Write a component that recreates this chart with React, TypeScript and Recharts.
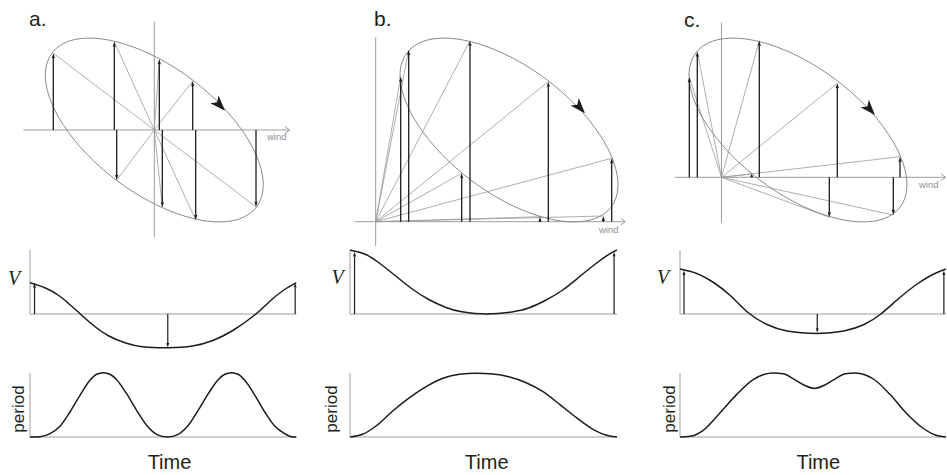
import React from 'react'
import { ComposedChart, Line, Scatter, XAxis, YAxis, ReferenceLine } from 'recharts'

// ---------- hodographs (u = along-wind, v = cross-wind; arbitrary units) ----------

// outline of the current ellipse, relative to its centre
const ellipseU = [103.9, 86.9, 61.5, 30.0, -4.5, -38.5, -68.7, -92.2, -106.7, -110.7, -103.9, -86.9, -61.5, -30.0, 4.5, 38.5, 68.7, 92.2, 106.7, 110.7]
const ellipseV = [-78.3, -90.3, -93.3, -87.3, -72.8, -51.1, -24.4, 4.7, 33.3, 58.7, 78.3, 90.3, 93.3, 87.3, 72.8, 51.1, 24.4, -4.7, -33.3, -58.7]

// ellipse centre (mean flow) in each panel
const centreA = [0, 0]
const centreB = [133.3, 91.7]
const centreC = [76.5, 47.3]

// tips of the eight current vectors
const tipUA = [-101, -40, 5, 38.4, 101.7, 41.4, 8, -37.6]
const tipVA = [76.7, 88.3, 70.7, 49, -76.7, -90, -77.3, -50]
const tipUB = [25, 33, 94.3, 172.6, 236, 227.6, 164.3, 86]
const tipVB = [145, 171.7, 181, 140, 63.4, 5.7, 5, 48.4]
const tipUC = [-32.2, -24.2, 37.8, 115.8, 178.5, 171.8, 107.8, 30.2]
const tipVC = [100, 125.6, 136.6, 94, 20.6, -37.7, -40, 3.3]

// direction-of-rotation marker on each ellipse
const turnA = [70.7, 19.3]
const turnB = [209.3, 108.4]
const turnC = [153.5, 62.3]

// ---------- V against time (percent of the tidal cycle) ----------
const vTimeA = [0, 5.8, 10.8, 14.5, 18.3, 23.4, 29.6, 35.9, 42.2, 52, 61, 68.6, 76.1, 84.3, 89.9, 95, 100]
const vA = [31.3, 26, 18.5, 10.5, 1.5, -10.5, -22, -29, -32.7, -33.7, -32, -26.5, -16.5, -1, 12.5, 23.5, 31.3]
const vArrowTA = [1.7, 51.7, 99.5]
const vArrowA = [30.8, -33.4, 31]

const vTimeB = [0, 5.7, 10.7, 17.1, 23.3, 29.5, 35.7, 41.9, 51.3, 60.6, 66.9, 73.1, 79.4, 85.6, 91.9, 96.8, 100]
const vB = [64, 59.7, 51.5, 38, 25, 14.5, 6.8, 2.2, 0, 2.1, 6, 13.5, 23.5, 36.5, 50, 59.3, 64]
const vArrowTB = [1.7, 98.9]
const vArrowB = [62, 62]

const vTimeC = [0, 6.3, 12.6, 18.9, 25.8, 32.7, 40.3, 51.6, 61.6, 69.2, 75.5, 81.8, 88.1, 94.3, 100]
const vC = [45, 40.5, 31.5, 18.5, 1, -10.5, -17, -19.4, -17, -10.5, 0, 14.5, 28, 38.5, 45]
const vArrowTC = [1.5, 51.6, 99.2]
const vArrowC = [43.5, -18.8, 43.5]

// ---------- period against time ----------
const pTimeA = [0, 3.75, 7.5, 11.25, 15, 18.75, 22.5, 25, 27.5, 30, 32.5, 36.25, 40, 43.75, 47.5, 51.6, 55.6, 59.4, 63.1, 66.9, 70.6, 73.1, 75.6, 78.1, 80.6, 84.4, 88.1, 91.9, 95.6, 98.1, 100]
const pA = [0, 0.3, 3.3, 10.7, 25, 41.7, 56.7, 62.7, 64.3, 62.7, 57.3, 43.3, 26.7, 11.7, 2.7, 0, 2.7, 11.7, 26.7, 43.3, 57.3, 62.7, 64.3, 62.7, 56.7, 41.7, 25, 10.7, 3.3, 0.3, 0]

const pTimeB = [0, 4.75, 9.75, 16, 22.3, 28.5, 34.8, 41, 47.3, 53.5, 59.8, 66, 72.3, 78.5, 84.8, 91, 97.3, 100]
const pB = [0, 2.7, 11, 26, 39.3, 50.3, 58.7, 62.7, 63.7, 63, 60, 54.3, 45.3, 32.7, 19.3, 7.7, 1, 0]

const pTimeC = [0, 3.75, 8.75, 15, 21.25, 27.5, 31.5, 35, 38.8, 42.6, 46.4, 50.5, 54.6, 58.4, 62.2, 66, 69.5, 73, 79, 85, 91.25, 96.25, 100]
const pC = [0, 0.7, 6.7, 24, 42.4, 57.4, 62.5, 64, 63.2, 58.2, 52.2, 48.6, 52.2, 58.2, 63.2, 64, 62.3, 57.5, 42.4, 24, 9, 1.7, 0]

const INK = '#1c1c1c'
const AXIS = '#9d9d9d'
const RAY = '#9a9a9a'
const RIM = '#8a8a8a'
const SANS = '"Liberation Sans", Arial, Helvetica, sans-serif'

const arrowShape = (head: number, width: number) => (p: any) => {
  const { x1, y1, x2, y2, stroke, strokeWidth } = p
  const dx = x2 - x1
  const dy = y2 - y1
  const len = Math.hypot(dx, dy) || 1
  const ux = dx / len
  const uy = dy / len
  const h = Math.min(head, len)
  const bx = x2 - ux * h
  const by = y2 - uy * h
  const w = width / 2
  return (
    <g>
      <line x1={x1} y1={y1} x2={bx} y2={by} stroke={stroke} strokeWidth={strokeWidth} />
      <path d={`M${x2},${y2}L${bx - uy * w},${by + ux * w}L${bx + uy * w},${by - ux * w}Z`} fill={stroke} />
    </g>
  )
}

const chevronShape = (p: any) => {
  const { x1, y1, x2, y2, stroke, strokeWidth } = p
  return (
    <g fill="none" stroke={stroke} strokeWidth={strokeWidth}>
      <line x1={x1} y1={y1} x2={x2} y2={y2} />
      <path d={`M${x2 - 4.5},${y2 - 3.5}L${x2},${y2}L${x2 - 4.5},${y2 + 3.5}`} />
    </g>
  )
}

const turnShape = (angle: number) => (p: any) => (
  <path d="M0,0L-15.5,-5.6L-11.5,0L-15.5,5.6Z" transform={`translate(${p.cx},${p.cy}) rotate(${angle})`} fill={INK} />
)

function Hodograph({ left, width, ox, oy, centre, tipU, tipV, turn, turnAngle, uAxis, vAxis }: any) {
  const height = 250
  const outline = ellipseU.map((u, i) => ({ x: u + centre[0], y: ellipseV[i] + centre[1] }))
  return (
    <div style={{ position: 'absolute', left, top: 0 }}>
      <ComposedChart width={width} height={height} margin={{ top: 0, right: 0, bottom: 0, left: 0 }}>
        <XAxis type="number" dataKey="x" hide domain={[-ox, width - ox]} allowDataOverflow />
        <YAxis type="number" dataKey="y" hide domain={[oy - height, oy]} allowDataOverflow />
        <ReferenceLine ifOverflow="visible" segment={[{ x: uAxis[0], y: 0 }, { x: uAxis[1], y: 0 }]} stroke={AXIS} strokeWidth={1} shape={chevronShape} />
        <ReferenceLine ifOverflow="visible" segment={[{ x: 0, y: vAxis[0] }, { x: 0, y: vAxis[1] }]} stroke={AXIS} strokeWidth={1} />
        {tipU.map((u: number, i: number) => (
          <ReferenceLine key={'r' + i} ifOverflow="visible" segment={[{ x: 0, y: 0 }, { x: u, y: tipV[i] }]} stroke={RAY} strokeWidth={0.8} />
        ))}
        <Line data={outline} dataKey="y" type="basisClosed" stroke={RIM} strokeWidth={1} dot={false} activeDot={false} isAnimationActive={false} />
        {tipU.map((u: number, i: number) => (
          <ReferenceLine key={'v' + i} ifOverflow="visible" segment={[{ x: u, y: 0 }, { x: u, y: tipV[i] }]} stroke={INK} strokeWidth={1.3} shape={arrowShape(5, 3.2)} />
        ))}
        <Scatter data={[{ x: turn[0], y: turn[1] }]} shape={turnShape(turnAngle)} isAnimationActive={false} />
      </ComposedChart>
    </div>
  )
}

function TimePlot({ left, right, base, yMin, yMax, t, v, curve, arrowT = [], arrowV = [] }: any) {
  const pad = 5
  const width = right - left + pad * 2
  const height = yMax - yMin + pad * 2
  const rows = t.map((tt: number, i: number) => ({ t: tt, v: v[i] }))
  return (
    <div style={{ position: 'absolute', left: left - pad, top: base - yMax - pad }}>
      <ComposedChart width={width} height={height} margin={{ top: pad, right: pad, bottom: pad, left: pad }}>
        <XAxis type="number" dataKey="t" hide domain={[0, 100]} allowDataOverflow />
        <YAxis type="number" dataKey="v" hide domain={[yMin, yMax]} allowDataOverflow />
        <ReferenceLine ifOverflow="visible" segment={[{ x: 0, y: 0 }, { x: 100, y: 0 }]} stroke={AXIS} strokeWidth={1} />
        <ReferenceLine ifOverflow="visible" segment={[{ x: 0, y: 0 }, { x: 0, y: 64 }]} stroke={AXIS} strokeWidth={1} />
        {arrowT.map((a: number, i: number) => (
          <ReferenceLine key={i} ifOverflow="visible" segment={[{ x: a, y: 0 }, { x: a, y: arrowV[i] }]} stroke={INK} strokeWidth={1.2} shape={arrowShape(4.5, 3)} />
        ))}
        <Line data={rows} dataKey="v" type={curve} stroke={INK} strokeWidth={1.5} dot={false} activeDot={false} isAnimationActive={false} />
      </ComposedChart>
    </div>
  )
}

const txt = (text: string, style: React.CSSProperties) => (
  <div style={{ position: 'absolute', whiteSpace: 'nowrap', lineHeight: 1, color: '#231f20', ...style }}>{text}</div>
)

const rotated = (text: string, cx: number, cy: number) => (
  <div
    style={{
      position: 'absolute', left: cx, top: cy, fontSize: 17, lineHeight: '17px', whiteSpace: 'nowrap',
      color: '#231f20', transform: 'translate(-50%, -50%) rotate(-90deg)',
    }}
  >
    {text}
  </div>
)

export default function App() {
  const vItalic: React.CSSProperties = { fontFamily: '"Liberation Serif", "Times New Roman", serif', fontStyle: 'italic', fontSize: 20 }
  const wind: React.CSSProperties = { fontSize: 9.5, color: '#909090' }
  return (
    <div style={{ position: 'absolute', left: 0, top: 0, width: 947, height: 475, overflow: 'hidden', background: '#fff', fontFamily: SANS }}>
      <Hodograph left={0} width={310} ox={154.3} oy={130} centre={centreA} tipU={tipUA} tipV={tipVA} turn={turnA} turnAngle={47} uAxis={[-131, 135.2]} vAxis={[-107.3, 108.3]} />
      <Hodograph left={312} width={318} ox={63.7} oy={221.7} centre={centreB} tipU={tipUB} tipV={tipVB} turn={turnB} turnAngle={48} uAxis={[-20.7, 249.5]} vAxis={[-24.3, 184.4]} />
      <Hodograph left={632} width={315} ox={89.5} oy={177.3} centre={centreC} tipU={tipUC} tipV={tipVC} turn={turnC} turnAngle={48} uAxis={[-46.5, 224]} vAxis={[-45.4, 154.6]} />

      <TimePlot left={30} right={296.5} base={314} yMin={-40} yMax={66} t={vTimeA} v={vA} curve="natural" arrowT={vArrowTA} arrowV={vArrowA} />
      <TimePlot left={350} right={617} base={314} yMin={-40} yMax={66} t={vTimeB} v={vB} curve="natural" arrowT={vArrowTB} arrowV={vArrowB} />
      <TimePlot left={680} right={946} base={314} yMin={-40} yMax={66} t={vTimeC} v={vC} curve="natural" arrowT={vArrowTC} arrowV={vArrowC} />

      <TimePlot left={30} right={296.5} base={436.5} yMin={-2} yMax={66} t={pTimeA} v={pA} curve="monotone" />
      <TimePlot left={350} right={617} base={436.5} yMin={-2} yMax={66} t={pTimeB} v={pB} curve="monotone" />
      <TimePlot left={680} right={946} base={436.5} yMin={-2} yMax={66} t={pTimeC} v={pC} curve="monotone" />

      {txt('a.', { left: 29, top: 8.2, fontSize: 21 })}
      {txt('b.', { left: 374, top: 8.2, fontSize: 21 })}
      {txt('c.', { left: 684, top: 8.7, fontSize: 21 })}

      {txt('wind', { left: 267, top: 132, ...wind })}
      {txt('wind', { left: 599, top: 225.3, ...wind })}
      {txt('wind', { left: 919, top: 180.3, ...wind })}

      {txt('V', { left: 8, top: 268.3, ...vItalic })}
      {txt('V', { left: 331.5, top: 266.5, ...vItalic })}
      {txt('V', { left: 657, top: 266.5, ...vItalic })}

      {rotated('period', 18.3, 409)}
      {rotated('period', 330.8, 409)}
      {rotated('period', 669.2, 409)}

      {txt('Time', { left: 169.5, top: 452.4, fontSize: 20, transform: 'translateX(-50%)' })}
      {txt('Time', { left: 486.7, top: 452.4, fontSize: 20, transform: 'translateX(-50%)' })}
      {txt('Time', { left: 818.3, top: 452.4, fontSize: 20, transform: 'translateX(-50%)' })}
    </div>
  )
}
